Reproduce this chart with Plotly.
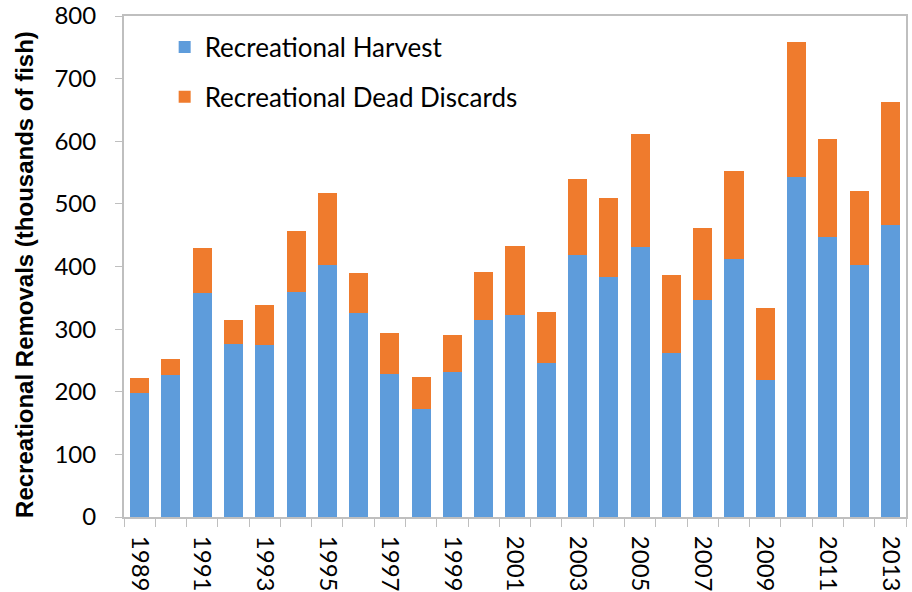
import plotly.graph_objects as go

years = list(range(1989, 2014))
harvest = [198, 226, 358, 277, 275, 360, 402, 325, 229, 173, 232, 314, 322, 246, 419,
           383, 431, 262, 346, 412, 218, 543, 447, 403, 467]
total = [222, 253, 429, 315, 338, 456, 517, 389, 294, 224, 290, 392, 432, 328, 539,
         510, 611, 386, 461, 552, 334, 758, 603, 520, 662]
discards = [t - h for t, h in zip(total, harvest)]
tick_years = list(range(1989, 2014, 2))
tick_labels = [str(y) for y in tick_years]

BLUE = "#5e9cdb"
ORANGE = "#ef7b2d"
AXIS = "#bfbfbf"
FONT = "Lato"

fig = go.Figure()
fig.add_trace(go.Bar(x=years, y=harvest, name="Recreational Harvest",
                     marker=dict(color=BLUE, line=dict(width=0)), legendgroup="a"))
fig.add_trace(go.Bar(x=years, y=discards, name="Recreational Dead Discards",
                     marker=dict(color=ORANGE, line=dict(width=0)), legendgroup="b"))

fig.update_layout(
    barmode="stack",
    bargap=0.39,
    width=912, height=592,
    margin=dict(l=124, r=6, t=16, b=75, autoexpand=False),
    paper_bgcolor="white", plot_bgcolor="white",
    font=dict(family=FONT, size=24, color="#000000"),
    showlegend=True,
    legend=dict(x=0.052, y=0.985, xanchor="left", yanchor="top",
                traceorder="grouped", tracegroupgap=13,
                font=dict(family=FONT, size=26), bgcolor="rgba(0,0,0,0)",
                itemwidth=30),
    xaxis=dict(range=[1988.5, 2013.5], tickmode="array", tickvals=tick_years,
               ticktext=tick_labels, tickangle=90, ticks="", ticklabelstandoff=12,
               showline=True, linecolor=AXIS, linewidth=2, mirror=True,
               showgrid=False, zeroline=False,
               tickfont=dict(family=FONT, size=24),
               minor=dict(tick0=1988.5, dtick=1, ticks="outside", ticklen=8,
                          tickcolor=AXIS, tickwidth=1, showgrid=False)),
    yaxis=dict(range=[0, 800], dtick=100, ticks="outside", ticklen=7, tickcolor=AXIS,
               tickwidth=1, showline=True, linecolor=AXIS, linewidth=2, mirror=True,
               showgrid=False, zeroline=False, ticklabelstandoff=14,
               tickfont=dict(family=FONT, size=24)),
    annotations=[dict(text="<b>Recreational Removals (thousands of fish)</b>",
                      xref="paper", yref="paper", x=-0.128, y=0.485,
                      xanchor="center", yanchor="middle", textangle=-90,
                      showarrow=False,
                      font=dict(family="Liberation Sans", size=24, color="#000000"))],
)

fig.write_html("out.html", config={"displayModeBar": False},
               post_script="document.body.style.margin='0';")
